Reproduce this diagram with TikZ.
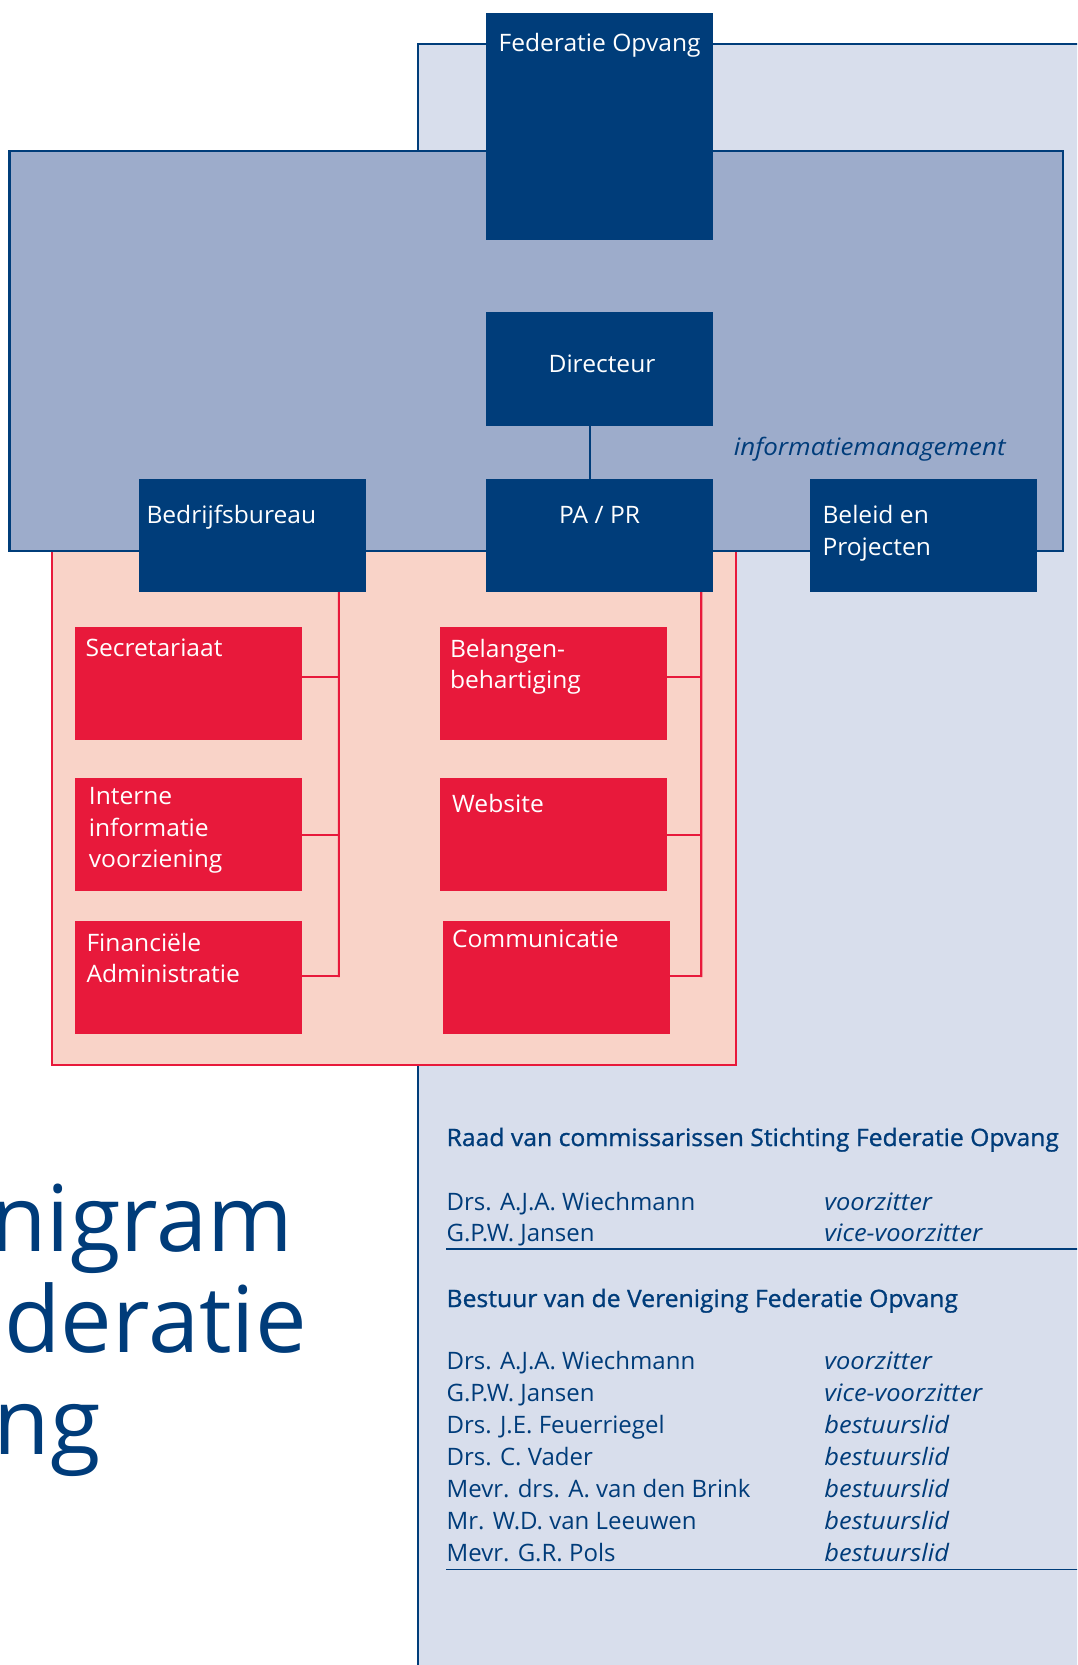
\documentclass[tikz,border=0pt]{standalone}
\usepackage{fontspec}
\setmainfont{Open Sans}
\newfontfamily\headfont[FakeBold=1, FakeStretch=1.03]{Open Sans}
\newfontfamily\roleit[FakeStretch=1.06]{Open Sans}
\newfontfamily\infoit[FakeStretch=1.08]{Open Sans}
\newfontfamily\labelfont[FakeStretch=1.025]{Open Sans}
\usetikzlibrary{calc}
\definecolor{navy}{RGB}{0,61,122}
\definecolor{midblue}{RGB}{157,172,203}
\definecolor{paleblue}{RGB}{216,222,236}
\definecolor{pinkbg}{RGB}{249,211,200}
\definecolor{redbox}{RGB}{232,25,59}
\definecolor{txtblue}{RGB}{0,60,122}
\newcommand{\mlines}[1]{\begin{tabular}[t]{@{}l@{}}#1\end{tabular}}
\newcommand{\boxfont}{\fontsize{24pt}{31.5pt}\selectfont\labelfont}
\newcommand{\listfont}{\fontsize{24pt}{31.9pt}\selectfont}
\newcommand{\role}{\roleit\itshape}
\tikzset{
  dbox/.style={fill=navy, draw=none, inner sep=0pt, outer sep=0pt, minimum width=227pt, anchor=north west},
  rbox/.style={fill=redbox, draw=none, inner sep=0pt, outer sep=0pt, minimum width=227pt, minimum height=113pt, anchor=north west},
  wlabel/.style={text=white, inner sep=0pt, font=\boxfont},
  blabel/.style={text=txtblue, inner sep=0pt, font=\listfont},
  bigtitle/.style={text=txtblue, inner sep=0pt, font=\fontsize{92pt}{101pt}\selectfont, anchor=base east},
  navyline/.style={draw=navy, line width=2pt},
  redline/.style={draw=redbox, line width=2pt},
}
\begin{document}
\begin{tikzpicture}[x=1pt,y=-1pt]
\useasboundingbox (0,0) rectangle (1077,1665);
\begin{scope}
\clip (0,0) rectangle (1077,1665);
\fill[white] (0,0) rectangle (1077,1665);
% pale background panel
\fill[paleblue] (417.6,44) rectangle (1100,1700);
\draw[navyline] (417.6,1700) -- (417.6,44) -- (1100,44);
% pink panel
\node[fill=pinkbg, draw=redbox, line width=2pt, inner sep=0pt, outer sep=0pt, minimum width=683.7pt, minimum height=535pt, anchor=north west] (pinkpanel) at (52,530) {};
% informatiemanagement panel
\node[fill=midblue, draw=navy, line width=2.5pt, inner sep=0pt, outer sep=0pt, minimum width=1053.4pt, minimum height=400pt, anchor=north west] (infopanel) at (9.6,151) {};
\node[text=txtblue, inner sep=0pt, font=\fontsize{24pt}{30pt}\selectfont\infoit\itshape, anchor=base west] (infolabel) at (733.6,455) {informatiemanagement};

% dark blue boxes
\node[dbox, minimum height=227pt] (fed) at (486.3,13) {};
\node[wlabel, anchor=base] (fedlabel) at (599.6,51.7) {Federatie Opvang};
\node[dbox, minimum height=113.5pt] (dir) at (486.3,312) {};
\node[wlabel, anchor=base] (dirlabel) at (602,372) {Directeur};
\node[dbox, minimum height=113pt] (papr) at (486.3,479) {};
\node[wlabel, anchor=base] (paprlabel) at (599.6,523.5) {PA / PR};
\node[dbox, minimum height=113pt] (bb) at (139.4,479) {};
\node[wlabel, anchor=base west] (bblabel) at (146.3,523.5) {Bedrijfsbureau};
\node[dbox, minimum height=113pt] (bel) at (810,479) {};
\node[wlabel, anchor=base west] (bellabel) at (822.3,523.5) {\mlines{Beleid en\\Projecten}};

% red boxes
\node[rbox] (sec) at (75,627) {};
\node[wlabel, anchor=base west] (seclabel) at (85.3,656.5) {Secretariaat};
\node[rbox] (iiv) at (75,778) {};
\node[wlabel, anchor=base west] (iivlabel) at (88.7,804.5) {\mlines{Interne\\informatie\\voorziening}};
\node[rbox] (fin) at (75,921) {};
\node[wlabel, anchor=base west] (finlabel) at (86.3,951) {\mlines{Financiële\\Administratie}};
\node[rbox] (bbh) at (439.6,627) {};
\node[wlabel, anchor=base west] (bbhlabel) at (449.8,657) {\mlines{Belangen-\\behartiging}};
\node[rbox] (web) at (439.6,778) {};
\node[wlabel, anchor=base west] (weblabel) at (452,812) {Website};
\node[rbox] (com) at (442.6,921) {};
\node[wlabel, anchor=base west] (comlabel) at (451.8,947.5) {Communicatie};

% connectors
\draw[navyline] ([xshift=-10.3pt]dir.south) -- ([xshift=-10.3pt]papr.north);
\coordinate (lbtop) at ([xshift=199.4pt]bb.south west);
\coordinate (lbbot) at (338.8,977);
\draw[redline] (lbtop) -- (lbbot);
\draw[redline] ([yshift=7pt]sec.east) -| (lbtop);
\draw[redline] ([yshift=0pt]iiv.east) -| (lbtop);
\draw[redline] ([yshift=2pt]fin.east) -| (lbtop);
\coordinate (rbtop) at ([xshift=215.1pt]papr.south west);
\coordinate (rbbot) at (701.4,977);
\draw[redline] (rbtop) -- (rbbot);
\draw[redline] ([yshift=7pt]bbh.east) -| (rbtop);
\draw[redline] ([yshift=0pt]web.east) -| (rbtop);
\draw[redline] ([yshift=2pt]com.east) -| (rbtop);

% big title (cut at the left edge as in the original)
\node[bigtitle] (t1) at (293,1251) {Organigram};
\node[bigtitle] (t2) at (307,1352) {Federatie};
\node[bigtitle] (t3) at (101,1454) {Opvang};

% boards
\node[blabel, font=\listfont\headfont, anchor=base west] (raad) at (446.4,1146) {Raad van commissarissen Stichting Federatie Opvang};
\node[blabel, anchor=base west] (raadlist) at (446.4,1210) {\begin{tabular}[t]{@{}p{377.8pt}@{}l@{}}
Drs. A.J.A. Wiechmann & \role voorzitter\\
G.P.W. Jansen & \role vice-voorzitter
\end{tabular}};
\draw[navy, line width=1.6pt] (446.4,1249) -- (1080,1249);
\node[blabel, font=\listfont\headfont, anchor=base west] (bestuur) at (446.4,1307) {Bestuur van de Vereniging Federatie Opvang};
\node[blabel, anchor=base west] (bestuurlist) at (446.4,1369.6) {\begin{tabular}[t]{@{}p{377.8pt}@{}l@{}}
Drs. A.J.A. Wiechmann & \role voorzitter\\
G.P.W. Jansen & \role vice-voorzitter\\
Drs. J.E. Feuerriegel & \role bestuurslid\\
Drs. C. Vader & \role bestuurslid\\
Mevr. drs. A. van den Brink & \role bestuurslid\\
Mr. W.D. van Leeuwen & \role bestuurslid\\
Mevr. G.R. Pols & \role bestuurslid
\end{tabular}};
\draw[navy, line width=1.6pt] (446.4,1569.6) -- (1080,1569.6);
\end{scope}
\end{tikzpicture}
\end{document}
